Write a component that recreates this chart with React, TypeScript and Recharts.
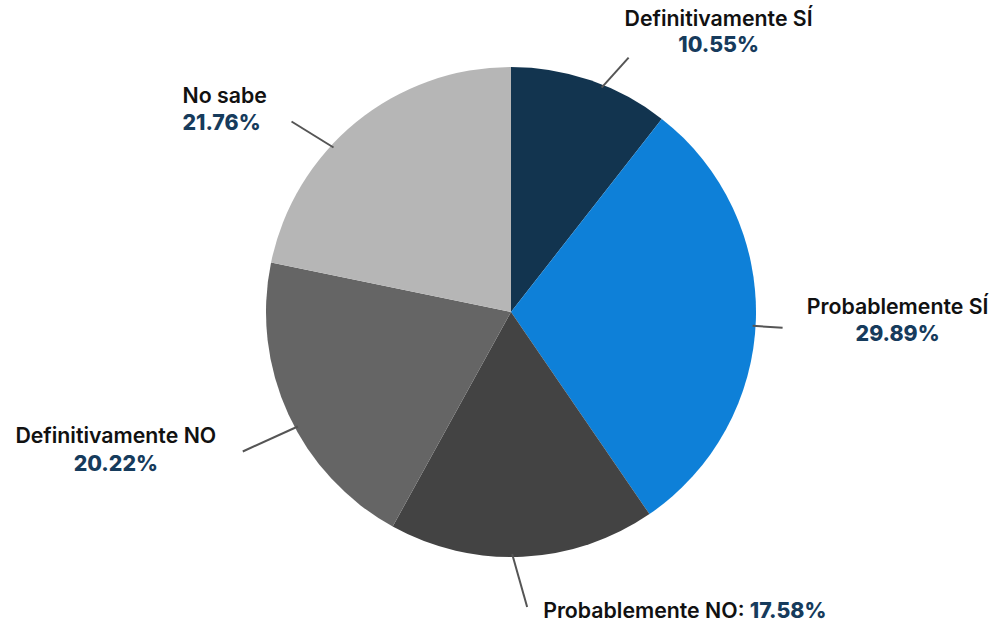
import { PieChart, Pie, Cell } from "recharts";

const CATEGORIES = [
  "Definitivamente SÍ",
  "Probablemente SÍ",
  "Probablemente NO",
  "Definitivamente NO",
  "No sabe",
];
const SHARES = [10.55, 29.89, 17.58, 20.22, 21.76];
const SLICE_COLORS = ["#12344f", "#0e80d8", "#434343", "#656565", "#b6b6b6"];

// label placement per slice: angle tweak (deg), leader vector, text offset from leader end
const LABEL_LAYOUT = [
  { tweak: 3, lx: 27, ly: -30, tx: 90, anchor: "middle", d1: -32, d2: -6, inline: false },
  { tweak: 1.5, lx: 30, ly: 2, tx: 115, anchor: "middle", d1: -14, d2: 13, inline: false },
  { tweak: 2.5, lx: 15, ly: 53, tx: 16, anchor: "start", d1: 11, d2: 11, inline: true },
  { tweak: -3.5, lx: -55, ly: 25, tx: -127, anchor: "middle", d1: -8, d2: 20, inline: false },
  { tweak: -8, lx: -42, ly: -26, tx: -109, anchor: "start", d1: -18, d2: 9, inline: false },
];

const data = CATEGORIES.map((name, i) => ({ name, value: SHARES[i] }));

const FONT = "Inter, 'Noto Sans', sans-serif";
const NAVY = "#163b5c";
const FS = 21.3;

const renderLabel = (props: any) => {
  const { cx, cy, midAngle, outerRadius, index } = props;
  const cfg = LABEL_LAYOUT[index];
  const RAD = Math.PI / 180;
  const ang = (midAngle - cfg.tweak) * RAD;
  const sx = cx + (outerRadius - 3) * Math.cos(ang);
  const sy = cy - (outerRadius - 3) * Math.sin(ang);
  const ex = sx + cfg.lx;
  const ey = sy + cfg.ly;
  const pct = `${SHARES[index].toFixed(2)}%`;
  return (
    <g key={`lbl-${index}`}>
      <line x1={sx} y1={sy} x2={ex} y2={ey} stroke="#555" strokeWidth={2} />
      {cfg.inline ? (
        <text x={ex + cfg.tx} y={ey + cfg.d1} textAnchor="start" fontFamily={FONT} fontSize={FS}>
          <tspan fill="#111" fontWeight={600}>{CATEGORIES[index]}: </tspan>
          <tspan fill={NAVY} fontWeight={800}>{pct}</tspan>
        </text>
      ) : (
        <>
          <text
            x={ex + cfg.tx}
            y={ey + cfg.d1}
            textAnchor={cfg.anchor as any}
            fontFamily={FONT}
            fontSize={FS}
            fontWeight={600}
            fill="#111"
          >
            {CATEGORIES[index]}
          </text>
          <text
            x={ex + cfg.tx}
            y={ey + cfg.d2}
            textAnchor={cfg.anchor as any}
            fontFamily={FONT}
            fontSize={FS}
            fontWeight={800}
            fill={NAVY}
          >
            {pct}
          </text>
        </>
      )}
    </g>
  );
};

export default function App() {
  return (
    <div style={{ position: "absolute", left: 0, top: 0, background: "#fff" }}>
      <PieChart width={998} height={627} margin={{ top: 0, right: 0, bottom: 0, left: 0 }}>
        <Pie
          data={data}
          dataKey="value"
          nameKey="name"
          cx={511}
          cy={312}
          outerRadius={245}
          startAngle={90}
          endAngle={-270}
          stroke="none"
          label={renderLabel}
          labelLine={false}
          isAnimationActive={false}
        >
          {data.map((_, i) => (
            <Cell key={`cell-${i}`} fill={SLICE_COLORS[i]} />
          ))}
        </Pie>
      </PieChart>
    </div>
  );
}
